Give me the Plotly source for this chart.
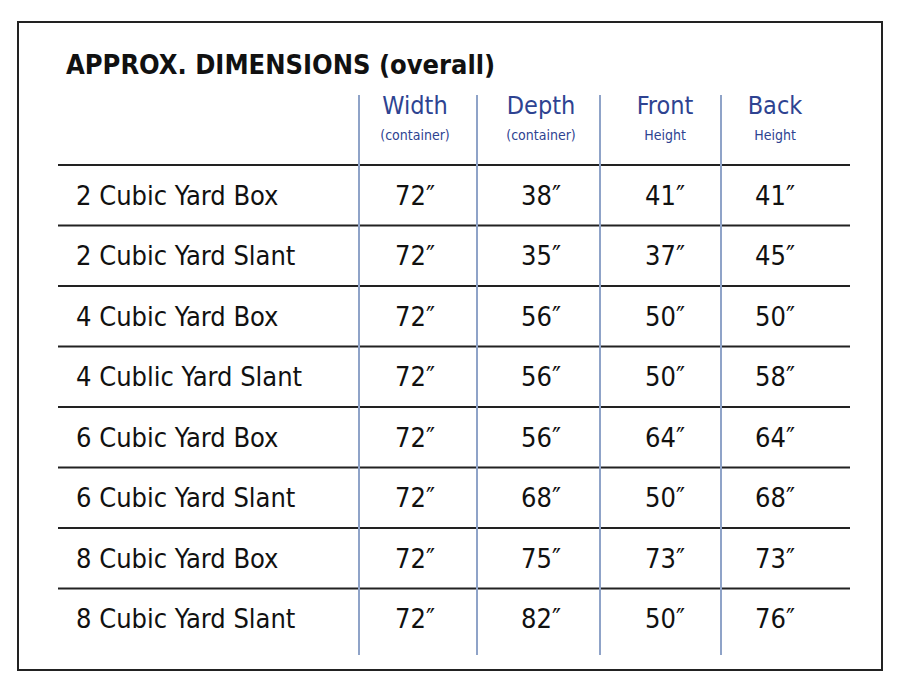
import plotly.graph_objects as go

title = "APPROX. DIMENSIONS (overall)"
headers = ["Width", "Depth", "Front", "Back"]
subheaders = ["(container)", "(container)", "Height", "Height"]
rows = ["2 Cubic Yard Box", "2 Cubic Yard Slant", "4 Cubic Yard Box", "4 Cublic Yard Slant",
        "6 Cubic Yard Box", "6 Cubic Yard Slant", "8 Cubic Yard Box", "8 Cubic Yard Slant"]
width = [72, 72, 72, 72, 72, 72, 72, 72]
depth = [38, 35, 56, 56, 56, 68, 75, 82]
front = [41, 37, 50, 50, 64, 50, 73, 50]
back = [41, 45, 50, 58, 64, 68, 73, 76]

font = "Liberation Sans Narrow, DejaVu Sans Condensed, Open Sans"
blue = "#2e4391"
col_x = [415, 541, 665, 775]
row_y = [198 + 60.5 * i for i in range(len(rows))]
hlines = [165 + 60.5 * i for i in range(len(rows))]
vlines = [359, 477, 600, 721]

fig = go.Figure()
fig.add_trace(go.Scatter(x=[76] * len(rows), y=row_y, mode="text", text=rows,
                         textposition="middle right",
                         textfont=dict(family=font, size=27, color="#111")))
for cx, vals in zip(col_x, [width, depth, front, back]):
    fig.add_trace(go.Scatter(x=[cx] * len(vals), y=row_y, mode="text",
                             text=[f"{v}″" for v in vals],
                             textfont=dict(family=font, size=27, color="#111")))
fig.add_trace(go.Scatter(x=col_x, y=[108] * 4, mode="text", text=headers,
                         textfont=dict(family=font, size=25, color=blue)))
fig.add_trace(go.Scatter(x=col_x, y=[136] * 4, mode="text", text=subheaders,
                         textfont=dict(family=font, size=14, color=blue)))
fig.add_annotation(x=64, y=64, text=f"<b>{title}</b>", showarrow=False, xanchor="left",
                   font=dict(family=font, size=27, color="#111"))

fig.add_shape(type="rect", x0=18, x1=882, y0=22, y1=670, line=dict(color="#222", width=2))
for y in hlines:
    fig.add_shape(type="line", x0=58, x1=850, y0=y, y1=y, line=dict(color="#222", width=2))
for x in vlines:
    fig.add_shape(type="line", x0=x, x1=x, y0=95, y1=655, line=dict(color="#8fa3c8", width=2))

fig.update_xaxes(range=[8, 908], visible=False)
fig.update_yaxes(range=[699, 8], visible=False)
fig.update_layout(width=900, height=691, margin=dict(l=0, r=0, t=0, b=0),
                  showlegend=False, plot_bgcolor="white", paper_bgcolor="white")
fig.write_html("out.html")
